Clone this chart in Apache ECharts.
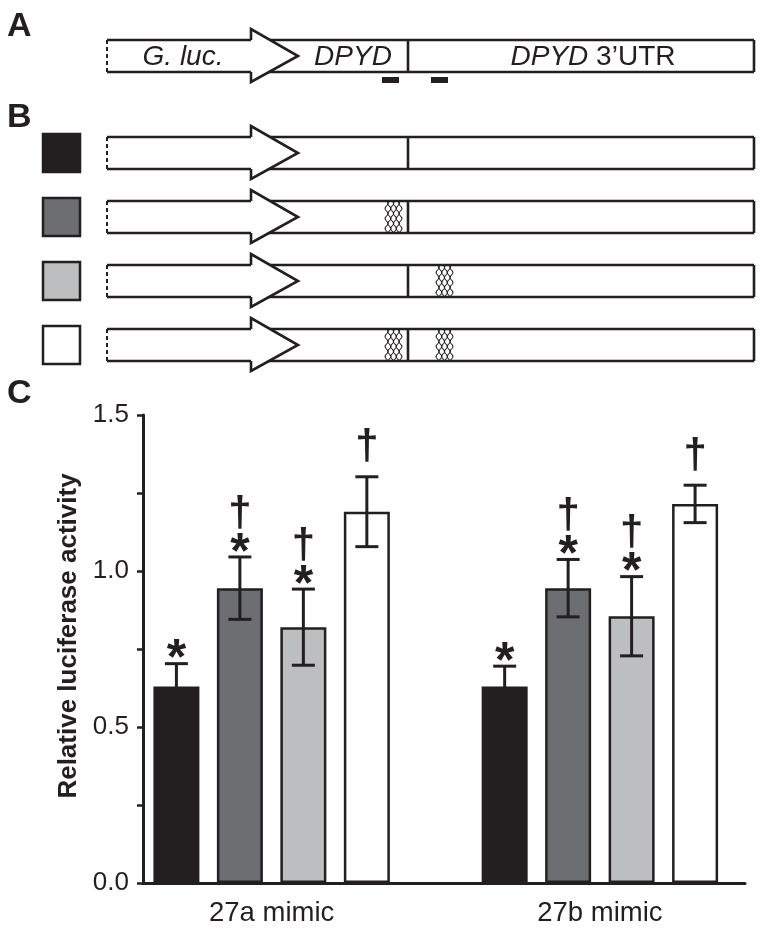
<!DOCTYPE html>
<html><head><meta charset="utf-8">
<script src="https://cdn.jsdelivr.net/npm/echarts/dist/echarts.min.js"></script>
<style>html,body{margin:0;padding:0;background:#fff}#c{width:764px;height:932px}</style>
</head><body><div id="c"></div>
<script>
// ---------- data ----------
const categories = ['27a mimic', '27b mimic'];
const constructs = ['Wild type', 'Site 1 mutant', 'Site 2 mutant', 'Double mutant'];
const meanWT = [0.63, 0.63];
const errWT  = [0.073, 0.065];
const meanM1 = [0.945, 0.945];
const errM1  = [0.10, 0.092];
const meanM2 = [0.82, 0.855];
const errM2  = [0.122, 0.127];
const meanDM = [1.19, 1.215];
const errDM  = [0.112, 0.06];
const starWT = [1, 1], daggerWT = [0, 0];
const starM1 = [1, 1], daggerM1 = [1, 1];
const starM2 = [1, 1], daggerM2 = [1, 1];
const starDM = [0, 0], daggerDM = [1, 1];
const yTickLabels = ['0.0', '0.5', '1.0', '1.5'];
const mutSite1 = [0, 1, 0, 1];
const mutSite2 = [0, 0, 1, 1];

// ---------- styling ----------
const INK = '#231f20';
const colors = ['#231f20', '#6d6e71', '#bcbec0', '#ffffff'];
const FONT = 'Liberation Sans, Arial, Helvetica, sans-serif';
const BAR_W = 46, BAR_GAP = 0.38;

const means = [meanWT, meanM1, meanM2, meanDM];
const errs = [errWT, errM1, errM2, errDM];
const stars = [starWT, starM1, starM2, starDM];
const daggers = [daggerWT, daggerM1, daggerM2, daggerDM];

const errData = [];
for (let s = 0; s < 4; s++) for (let c = 0; c < categories.length; c++)
  errData.push([c, s, means[s][c], errs[s][c], stars[s][c], daggers[s][c]]);

// ---------- schematic graphics (panels A & B) ----------
const G = [];
const LW = 2.6;
function construct(cy, site1, site2) {
  const top = cy - 16, bot = cy + 16, x0 = 107, x1 = 754, hb = 251, tip = 298, div = 408;
  G.push({type:'line', shape:{x1:x0, y1:top, x2:x1, y2:top}, style:{stroke:INK, lineWidth:LW}});
  G.push({type:'line', shape:{x1:x0, y1:bot, x2:x1, y2:bot}, style:{stroke:INK, lineWidth:LW}});
  G.push({type:'line', shape:{x1:x1, y1:top, x2:x1, y2:bot}, style:{stroke:INK, lineWidth:LW}});
  G.push({type:'line', shape:{x1:x0, y1:top, x2:x0, y2:bot}, style:{stroke:INK, lineWidth:2, lineDash:[4,3]}});
  G.push({type:'line', shape:{x1:div, y1:top, x2:div, y2:bot}, style:{stroke:INK, lineWidth:LW}});
  G.push({type:'polygon', shape:{points:[[hb, cy-27],[tip, cy],[hb, cy+26]]}, style:{fill:'#fff'}});
  G.push({type:'polyline', shape:{points:[[hb, top],[hb, cy-27],[tip, cy],[hb, cy+26],[hb, bot]]}, style:{stroke:INK, lineWidth:LW, fill:null}});
  if (site1) hatch(385, top, bot);
  if (site2) hatch(436, top, bot);
}
function hatch(x0, top, bot) {
  const n = 6, w = 17;
  for (let k = 0; k < n; k++) {
    const pts = [];
    for (let y = top + 1; y <= bot - 1; y += 0.5) {
      pts.push([x0 + 1.5 + k * (w - 3) / (n - 1) + 1.4 * Math.sin(2 * Math.PI * (y - top) / 10 + (k % 2) * Math.PI), y]);
    }
    G.push({type:'polyline', shape:{points:pts}, style:{stroke:INK, lineWidth:1.1, fill:null}});
  }
}
function label(text, x, y, size, opts) {
  G.push({type:'text', style:Object.assign({text:text, x:x, y:y, fontSize:size, fontFamily:FONT, fill:INK, textAlign:'center', textVerticalAlign:'middle'}, opts || {})});
}
// panel letters
label('A', 7, 27, 34, {fontWeight:'bold', textAlign:'left'});
label('B', 7, 118, 34, {fontWeight:'bold', textAlign:'left'});
label('C', 7, 394, 34, {fontWeight:'bold', textAlign:'left'});
// panel A
construct(56, 0, 0);
label('G. luc.', 183, 57, 28, {fontStyle:'italic'});
label('DPYD', 353, 57, 28, {fontStyle:'italic'});
G.push({type:'text', style:{text:'{i|DPYD} 3\u2019UTR', x:593, y:57, fontSize:28, fontFamily:FONT, fill:INK, textAlign:'center', textVerticalAlign:'middle', rich:{i:{fontStyle:'italic', fontSize:28, fontFamily:FONT, fill:INK}}}});
G.push({type:'rect', shape:{x:382, y:77, width:17, height:6}, style:{fill:INK}});
G.push({type:'rect', shape:{x:431, y:77, width:17, height:6}, style:{fill:INK}});
// panel B
for (let i = 0; i < 4; i++) {
  const cy = 153 + 64 * i;
  G.push({type:'rect', shape:{x:43, y:cy-19, width:37, height:38}, style:{fill:colors[i], stroke:INK, lineWidth:2.5}});
  construct(cy, mutSite1[i], mutSite2[i]);
}

// ---------- chart ----------
const chart = echarts.init(document.getElementById('c'), null, {renderer:'canvas'});
const barSeries = constructs.map((name, s) => ({
  name: name, type:'bar', xAxisIndex:1, yAxisIndex:1,
  data: means[s], barWidth: BAR_W, barGap: (BAR_GAP*100) + '%',
  itemStyle:{color:colors[s], borderColor:INK, borderWidth:2.5}, z:2
}));

chart.setOption({
  animation:false,
  backgroundColor:'#fff',
  grid:[
    {left:143, right:19, top:415, bottom:49},
    {left:107.5, width:672, top:415, bottom:49}
  ],
  xAxis:[
    {type:'category', gridIndex:0, data:categories, axisLine:{lineStyle:{color:INK, width:3}},
     axisTick:{length:6, lineStyle:{color:INK, width:2.5}}, axisLabel:{show:false}, z:5},
    {type:'category', gridIndex:1, data:categories, axisLine:{show:false}, axisTick:{show:false},
     axisLabel:{fontSize:27.5, fontFamily:FONT, color:INK, margin:16}}
  ],
  yAxis:[
    {type:'value', gridIndex:0, min:0, max:1.5, interval:0.25,
     axisLine:{show:true, lineStyle:{color:INK, width:3}},
     axisTick:{show:true, length:6, lineStyle:{color:INK, width:2.5}},
     splitLine:{show:false},
     axisLabel:{fontSize:26, fontFamily:FONT, color:INK, margin:14,
       formatter: v => { const i = Math.round(v / 0.5); return Math.abs(v - i * 0.5) < 1e-6 ? yTickLabels[i] : ''; }},
     name:'Relative luciferase activity', nameLocation:'middle', nameGap:60,
     nameTextStyle:{fontSize:26, fontWeight:'bold', fontFamily:FONT, color:INK, padding:[0,0,0,26]}, z:5},
    {type:'value', gridIndex:1, min:0, max:1.5, show:false}
  ],
  series: barSeries.concat([{
    type:'custom', xAxisIndex:1, yAxisIndex:1, data:errData, z:10,
    encode:{x:0, y:2},
    renderItem: function (params, api) {
      const cat = api.value(0), s = api.value(1), m = api.value(2), e = api.value(3);
      const st = api.value(4), dg = api.value(5);
      const total = 4 * BAR_W + 3 * BAR_W * BAR_GAP;
      const cx = api.coord([cat, 0])[0] - total / 2 + BAR_W / 2 + s * BAR_W * (1 + BAR_GAP);
      const yT = api.coord([cat, m + e])[1], yB = api.coord([cat, m - e])[1];
      const cw = 11.5;
      const ls = {stroke:INK, lineWidth:3};
      const ch = [
        {type:'line', shape:{x1:cx, y1:yT, x2:cx, y2:yB}, style:ls},
        {type:'line', shape:{x1:cx-cw, y1:yT, x2:cx+cw, y2:yT}, style:ls},
        {type:'line', shape:{x1:cx-cw, y1:yB, x2:cx+cw, y2:yB}, style:ls}
      ];
      let off = 15;
      if (st) {
        ch.push({type:'text', style:{text:'*', x:cx, y:yT - 15 + 12, fontSize:50, fontWeight:'bold', fontFamily:FONT, fill:INK, textAlign:'center', textVerticalAlign:'middle'}});
        off = 29;
      }
      if (dg) {
        ch.push({type:'text', style:{text:'\u2020', x:cx, y:yT - off - 14, fontSize:42, fontWeight:'bold', fontFamily:FONT, fill:INK, textAlign:'center', textVerticalAlign:'middle'}});
      }
      return {type:'group', children:ch};
    }
  }]),
  graphic:{elements:G}
});
</script></body></html>
